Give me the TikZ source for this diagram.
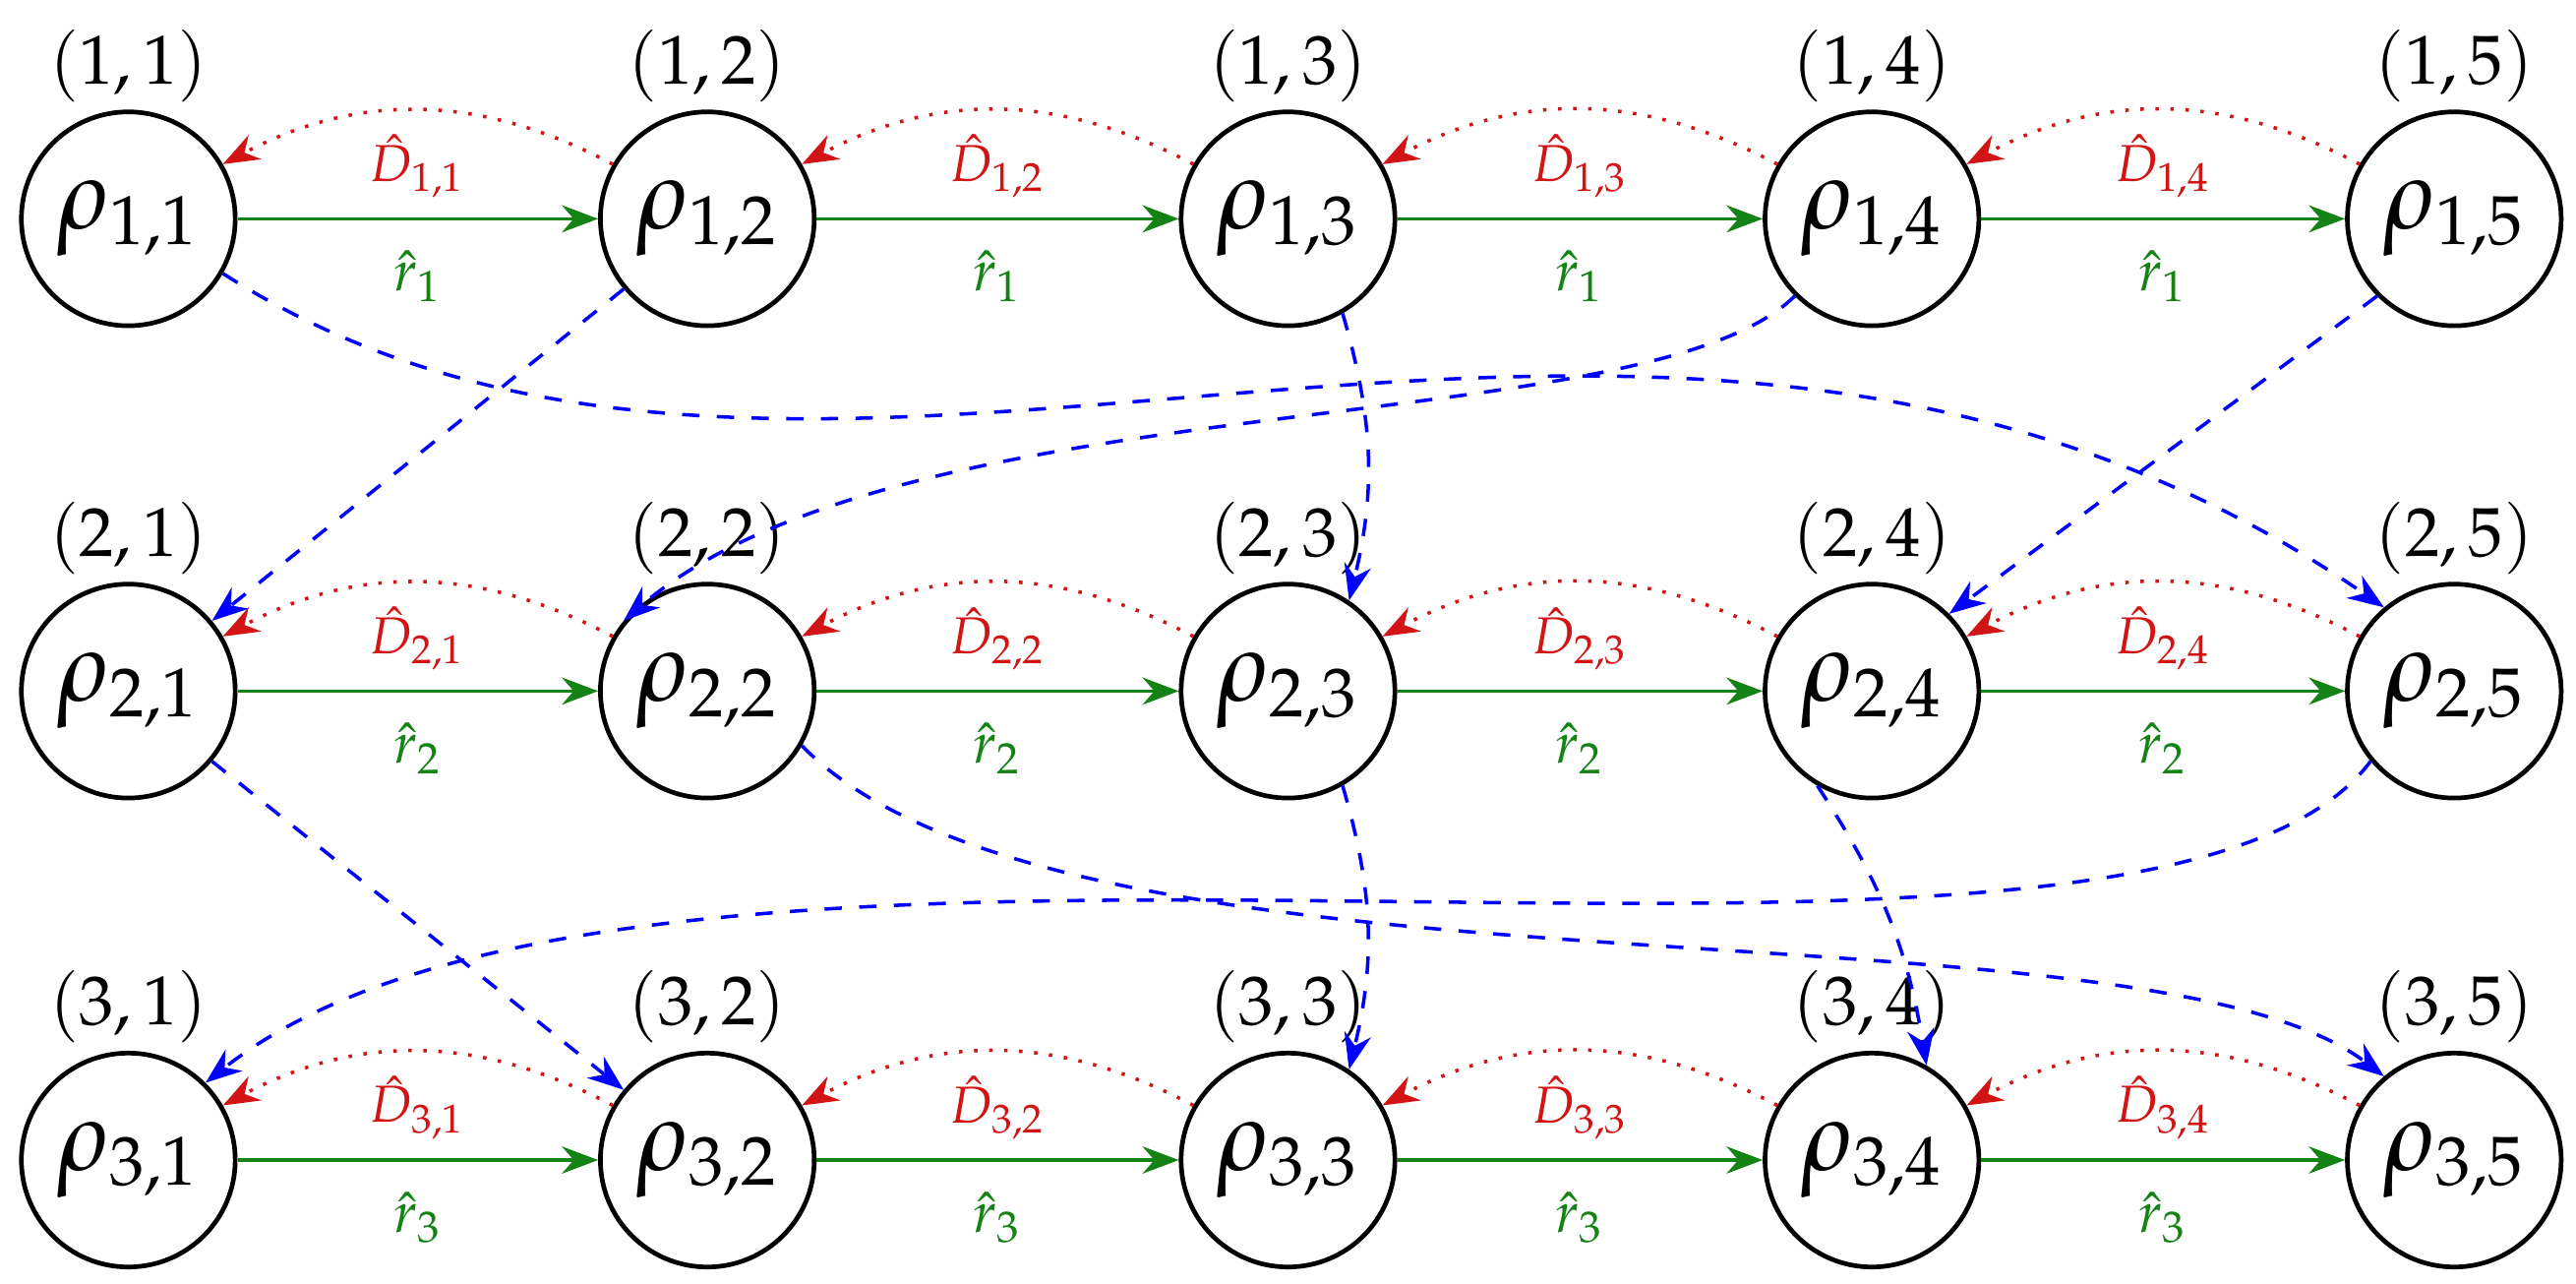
\documentclass[tikz,border=0pt]{standalone}
\usepackage{mathpazo}
\usetikzlibrary{arrows.meta}
\definecolor{dgreen}{RGB}{20,130,20}
\definecolor{dred}{RGB}{210,20,20}
\tikzset{
  state/.style={circle, draw, thick, minimum size=1.3cm, inner sep=0pt, font=\LARGE},
  fwd/.style={dgreen, semithick, -{Stealth[length=2.2mm]}},
  back/.style={dred, dotted, semithick, -{Stealth[length=2.2mm]}, bend right=28},
  jump/.style={blue, dashed, semithick, -{Stealth[length=2.2mm]}}
}
\begin{document}
\begin{tikzpicture}
\useasboundingbox (0,0) rectangle (15.66,7.80);

% states and grid labels
\foreach \i/\y in {1/6.47, 2/3.60, 3/0.75} {
  \foreach \j/\x in {1/0.78, 2/4.30, 3/7.83, 4/11.38, 5/14.92} {
    \node[state] (s\i\j) at (\x, \y) {$\rho_{\i,\j}$};
    \node[font=\large] (g\i\j) at (\x, \y+0.93) {$(\i,\j)$};
  }
}

% forward and backward steps
\foreach \i in {1,2,3} {
  \foreach \j/\k in {1/2, 2/3, 3/4, 4/5} {
    \draw[fwd] (s\i\j) -- node[below=2pt] {$\hat{r}_{\i}$} node[above=0pt, dred, font=\small] {$\hat{D}_{\i,\j}$} (s\i\k);
    \draw[back] (s\i\k.150) to (s\i\j.30);
  }
}

% jumps between rows
\draw[jump] (s11.-30) .. controls (5.0,3.8) and (10.0,7.2) .. (s25.130);
\draw[jump] (s12.-140) -- (s21.40);
\draw[jump] (s13.-60) to[bend left=15] (s23.56);
\draw[jump] (s14.-135) .. controls (10.0,5.1) and (5.5,5.5) .. (s22.140);
\draw[jump] (s15.-135) -- (s24.45);

\draw[jump] (s21.-40) -- (s32.140);
\draw[jump] (s22.-30) .. controls (6.5,1.6) and (13.0,2.4) .. (s35.130);
\draw[jump] (s23.-60) to[bend left=15] (s33.56);
\draw[jump] (s24.-120) to[bend left=12] (s34.60);
\draw[jump] (s25.-140) .. controls (13.0,1.3) and (4.0,3.4) .. (s31.45);
\end{tikzpicture}
\end{document}
